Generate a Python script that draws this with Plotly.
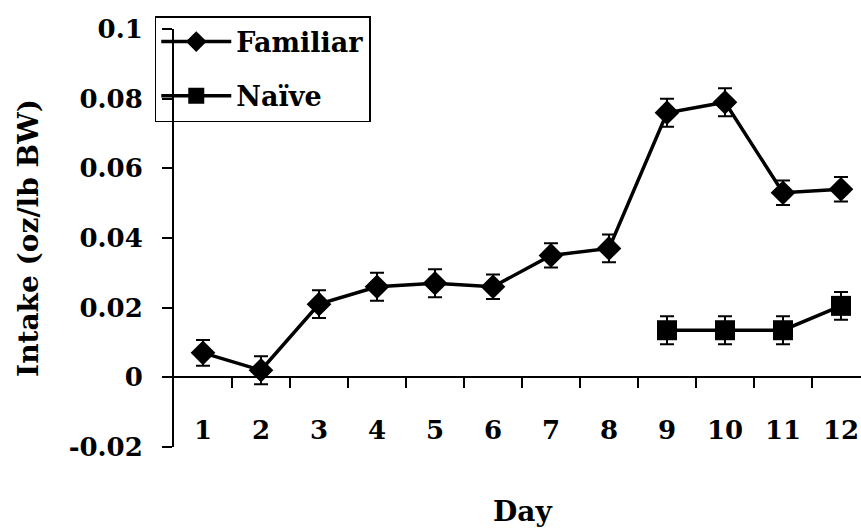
import plotly.graph_objects as go

# Daily intake per body weight, with standard errors
days = list(range(1, 13))
familiar = [0.007, 0.002, 0.021, 0.026, 0.027, 0.026, 0.035, 0.037, 0.076, 0.079, 0.053, 0.054]
familiar_err = [0.0037, 0.004, 0.004, 0.004, 0.004, 0.0035, 0.0035, 0.004, 0.004, 0.004, 0.0035, 0.0035]
naive_days = [9, 10, 11, 12]
naive = [0.0135, 0.0135, 0.0135, 0.0205]
naive_err = [0.004, 0.004, 0.004, 0.004]

y_ticks = [-0.02, 0, 0.02, 0.04, 0.06, 0.08, 0.1]
y_ticktext = ["-0.02", "0", "0.02", "0.04", "0.06", "0.08", "0.1"]
day_boundaries = [d + 0.5 for d in days[:-1]]

FONT = dict(family="DejaVu Serif", size=26, color="black", weight="bold")
LEGEND_FONT = dict(family="DejaVu Serif", size=27, color="black", weight="bold")
TITLE_FONT = dict(family="DejaVu Serif", size=28, color="black", weight="bold")
Y_MIN, Y_MAX = -0.02, 0.1
X_RANGE = [0.5, 12.345]

fig = go.Figure()

fig.add_trace(go.Scatter(
    x=days, y=familiar, name="Familiar", mode="lines+markers",
    line=dict(color="black", width=3.5),
    marker=dict(symbol="diamond", size=19, color="black"),
    error_y=dict(type="data", array=familiar_err, color="black", thickness=2, width=7),
    legendgroup="f",
))
fig.add_trace(go.Scatter(
    x=naive_days, y=naive, name="Naïve", mode="lines+markers",
    line=dict(color="black", width=3.5),
    marker=dict(symbol="square", size=20, color="black"),
    error_y=dict(type="data", array=naive_err, color="black", thickness=2, width=7),
    legendgroup="n",
))
# carrier trace for the category axis drawn through zero
fig.add_trace(go.Scatter(x=[], y=[], xaxis="x2", yaxis="y", showlegend=False, hoverinfo="skip"))

zero_pos = (0 - Y_MIN) / (Y_MAX - Y_MIN)

fig.update_layout(
    width=861, height=531,
    margin=dict(l=174, r=0, t=29, b=84),
    plot_bgcolor="white", paper_bgcolor="white",
    font=FONT,
    showlegend=True,
    legend=dict(
        x=-0.028, y=1.031, xanchor="left", yanchor="top",
        bgcolor="rgba(0,0,0,0)", bordercolor="black", borderwidth=1.5,
        font=LEGEND_FONT, itemwidth=70, tracegroupgap=16,
    ),
    # day labels sit just above the bottom of the plot
    xaxis=dict(
        range=X_RANGE, tickmode="array", tickvals=days, ticktext=[str(d) for d in days],
        anchor="free", position=0.084,
        showline=False, showgrid=False, zeroline=False, ticks="",
        tickfont=FONT,
    ),
    xaxis2=dict(
        range=X_RANGE, overlaying="x", anchor="free", position=zero_pos, side="bottom",
        tickmode="array", tickvals=day_boundaries, showticklabels=False,
        ticks="outside", ticklen=10, tickwidth=2, tickcolor="black",
        showline=True, linecolor="black", linewidth=2, showgrid=False, zeroline=False,
    ),
    yaxis=dict(
        range=[Y_MIN - 0.00005, Y_MAX + 0.00005], tickmode="array",
        tickvals=y_ticks, ticktext=y_ticktext,
        showline=True, linecolor="black", linewidth=2, showgrid=False, zeroline=False,
        ticks="outside", ticklen=10, tickwidth=2, tickcolor="black",
        tickfont=FONT, ticklabelstandoff=14,
        title=dict(text="Intake (oz/lb BW)", font=TITLE_FONT, standoff=22),
    ),
    annotations=[dict(
        text="Day", xref="paper", yref="paper", x=0.507, y=-0.155,
        xanchor="center", yanchor="middle", showarrow=False, font=TITLE_FONT,
    )],
)

fig.write_html("out.html")
